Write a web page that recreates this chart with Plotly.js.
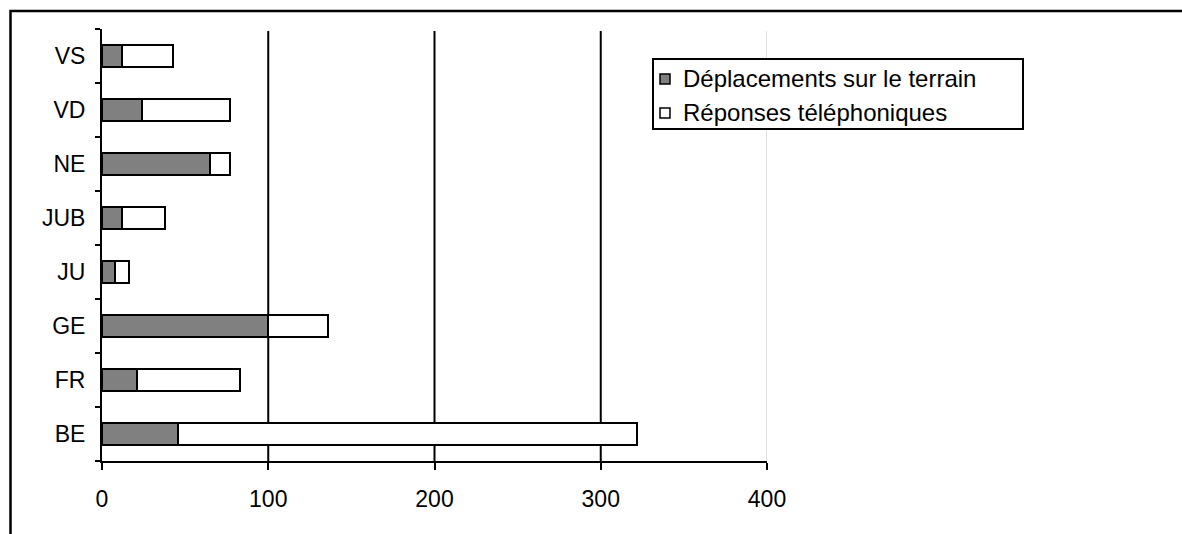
<!DOCTYPE html>
<html>
<head>
<meta charset="utf-8">
<script src="https://cdn.plot.ly/plotly-3.0.1.min.js"></script>
<style>html,body{margin:0;padding:0;background:#fff;}#chart{width:1182px;height:534px;}</style>
</head>
<body>
<div id="chart"></div>
<script>
const cantons = ['BE', 'FR', 'GE', 'JU', 'JUB', 'NE', 'VD', 'VS'];
const deplacements = [46, 21, 100, 8, 12, 65, 24, 12];
const reponses = [276, 62, 36, 8, 26, 12, 53, 31];
const seriesNames = ['Déplacements sur le terrain', 'Réponses téléphoniques'];
const seriesColors = ['#808080', '#ffffff'];
const xTicks = [0, 100, 200, 300, 400];
const gridVals = [100, 200, 300];

const FONT = 'Liberation Sans, Arial, sans-serif';
const FS = 23;

const traces = [
  {type: 'bar', orientation: 'h', y: cantons, x: deplacements, name: seriesNames[0],
   marker: {color: seriesColors[0], line: {color: '#000', width: 2}}},
  {type: 'bar', orientation: 'h', y: cantons, x: reponses, name: seriesNames[1],
   marker: {color: seriesColors[1], line: {color: '#000', width: 2}}}
];

// pixel -> paper helpers for decorations (plot area: x 102..767, y 29..461)
const PX = px => (px - 102) / 665;
const PY = py => (461 - py) / 432;

const shapes = gridVals.map(v => ({type: 'line', xref: 'x', yref: 'paper', x0: v, x1: v, y0: 0, y1: PY(31),
  line: {color: '#000', width: 2}, layer: 'below'}));
shapes.push({type: 'line', xref: 'x', yref: 'paper', x0: xTicks[xTicks.length-1], x1: xTicks[xTicks.length-1], y0: 0, y1: PY(31),
  line: {color: '#c0c0c0', width: 1}, layer: 'below'});
// outer chart frame (extends beyond the visible window)
shapes.push({type: 'rect', xref: 'paper', yref: 'paper', x0: PX(10.5), x1: 1.7, y0: -0.3, y1: PY(11),
  line: {color: '#000', width: 2.5}, fillcolor: 'rgba(0,0,0,0)', layer: 'above'});

// legend drawn as box + swatches + text
const legendRows = [79, 113];
shapes.push({type: 'rect', xref: 'paper', yref: 'paper', x0: PX(653), x1: PX(1023), y0: PY(129), y1: PY(59),
  line: {color: '#000', width: 2}, fillcolor: '#fff', layer: 'above'});
const annotations = [];
seriesNames.forEach((nm, i) => {
  const cy = legendRows[i];
  shapes.push({type: 'rect', xref: 'paper', yref: 'paper', x0: PX(660), x1: PX(670), y0: PY(cy + 5), y1: PY(cy - 5),
    line: {color: '#000', width: 1.5}, fillcolor: seriesColors[i], layer: 'above'});
  annotations.push({xref: 'paper', yref: 'paper', x: PX(681), y: PY(cy), xanchor: 'left', yanchor: 'middle',
    text: nm, showarrow: false, font: {family: FONT, size: 24, color: '#000'}});
});

const layout = {
  width: 1182, height: 534,
  margin: {l: 102, r: 415, t: 29, b: 73},
  paper_bgcolor: '#fff', plot_bgcolor: '#fff',
  barmode: 'stack', bargap: 0.58,
  font: {family: FONT, size: FS, color: '#000'},
  showlegend: false,
  xaxis: {range: [0, 400], tickvals: xTicks, ticktext: xTicks.map(String), showgrid: false, zeroline: false,
    showline: true, linecolor: '#000', linewidth: 2, ticks: 'outside', ticklen: 7, tickwidth: 2, tickcolor: '#000',
    ticklabelstandoff: 9, tickfont: {family: FONT, size: FS, color: '#000'}, fixedrange: true},
  yaxis: {type: 'category', categoryorder: 'array', categoryarray: cantons, showgrid: false, zeroline: false,
    showline: true, linecolor: '#000', linewidth: 2, ticks: 'outside', ticklen: 5, tickwidth: 2, tickcolor: '#000',
    tickson: 'boundaries', ticklabelstandoff: 10, tickfont: {family: FONT, size: FS, color: '#000'}, fixedrange: true},
  shapes: shapes,
  annotations: annotations
};

Plotly.newPlot('chart', traces, layout, {displayModeBar: false, staticPlot: true});
</script>
</body>
</html>
